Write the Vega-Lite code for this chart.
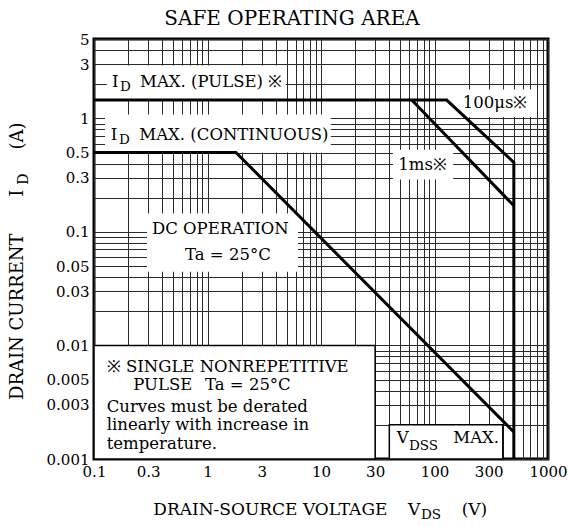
{
  "$schema": "https://vega.github.io/schema/vega-lite/v6.json",
  "width": 454,
  "height": 420,
  "autosize": "none",
  "padding": {"left": 94, "top": 39, "right": 20, "bottom": 67},
  "background": "white",
  "title": {"text": "SAFE OPERATING AREA", "font": "DejaVu Serif", "fontSize": 20, "fontWeight": "normal", "color": "black", "anchor": "middle", "dx": -29, "offset": 3},
  "config": {
    "view": {"stroke": "black", "strokeWidth": 3},
    "axis": {"domain": false, "ticks": false, "grid": true, "gridColor": "#2a2a2a", "gridWidth": 1, "gridOpacity": 1, "labelFont": "DejaVu Serif", "labelFontSize": 15, "labelColor": "black", "labelFlush": false, "labelOverlap": false, "format": "~g"},
    "text": {"font": "DejaVu Serif", "color": "black"}
  },
  "datasets": {
    "curves": [
      {"series": "p100", "ord": 0, "v": 0.1, "i": 1.45},
      {"series": "p100", "ord": 1, "v": 128, "i": 1.45},
      {"series": "p100", "ord": 2, "v": 500, "i": 0.41},
      {"series": "p100", "ord": 3, "v": 500, "i": 0.001},
      {"series": "p1ms", "ord": 0, "v": 63, "i": 1.45},
      {"series": "p1ms", "ord": 1, "v": 500, "i": 0.17},
      {"series": "dc", "ord": 0, "v": 0.1, "i": 0.5},
      {"series": "dc", "ord": 1, "v": 1.78, "i": 0.5},
      {"series": "dc", "ord": 2, "v": 500, "i": 0.00173}
    ],
    "boxes": [
      {"x1": 0.13, "x2": 4.9, "y1": 1.45, "y2": 2.92},
      {"x1": 0.125, "x2": 12.2, "y1": 0.5, "y2": 1.08},
      {"x1": 160, "x2": 760, "y1": 1.03, "y2": 1.8},
      {"x1": 43, "x2": 146, "y1": 0.29, "y2": 0.53},
      {"x1": 0.293, "x2": 6.27, "y1": 0.0446, "y2": 0.145}
    ],
    "frames": [
      {"x1": 0.1, "x2": 30, "y1": 0.001, "y2": 0.01},
      {"x1": 40, "x2": 400, "y1": 0.001, "y2": 0.002}
    ],
    "labels": [
      {"t": "I", "x": 0.1441, "y": 1.907},
      {"t": "MAX. (PULSE) ※", "x": 0.2542, "y": 1.907},
      {"t": "I", "x": 0.1403, "y": 0.641},
      {"t": "MAX. (CONTINUOUS)", "x": 0.2506, "y": 0.641},
      {"t": "100μs※", "x": 177.2, "y": 1.238},
      {"t": "1ms※", "x": 48.0, "y": 0.3486},
      {"t": "DC OPERATION", "x": 0.3243, "y": 0.0958},
      {"t": "Ta = 25°C", "x": 0.6336, "y": 0.0569},
      {"t": "※ SINGLE NONREPETITIVE", "x": 0.1294, "y": 0.005886},
      {"t": "PULSE", "x": 0.222, "y": 0.00406},
      {"t": "Ta = 25°C", "x": 0.9506, "y": 0.00406},
      {"t": "Curves must be derated", "x": 0.1294, "y": 0.002614},
      {"t": "linearly with increase in", "x": 0.1294, "y": 0.001802},
      {"t": "temperature.", "x": 0.1294, "y": 0.001218},
      {"t": "V", "x": 46.45, "y": 0.001392},
      {"t": "MAX.", "x": 146.4, "y": 0.001392}
    ],
    "xtitle": [
      {"t": "DRAIN-SOURCE VOLTAGE", "x": 0.3331, "y": 0.0003208},
      {"t": "V", "x": 58.42, "y": 0.0003208},
      {"t": "(V)", "x": 173.6, "y": 0.0003208}
    ],
    "subs": [
      {"t": "D", "x": 0.1695, "y": 1.759},
      {"t": "D", "x": 0.1661, "y": 0.5934},
      {"t": "DSS", "x": 59.5, "y": 0.0012},
      {"t": "DS", "x": 76.0, "y": 0.0002957}
    ],
    "ytitle": [
      {"t": "DRAIN CURRENT", "x": 0.02368, "y": 0.00331},
      {"t": "I", "x": 0.02368, "y": 0.2043},
      {"t": "(A)", "x": 0.02368, "y": 0.5307}
    ],
    "ytitlesub": [
      {"t": "D", "x": 0.02595, "y": 0.2608}
    ]
  },
  "layer": [
    {
      "data": {"name": "boxes"},
      "mark": {"type": "rect", "fill": "white", "stroke": null},
      "encoding": {
        "x": {"field": "x1", "type": "quantitative", "scale": {"type": "log", "domain": [0.1, 1000], "nice": false},
          "axis": {"title": null, "values": [0.1,0.2,0.3,0.4,0.5,0.6,0.7,0.8,0.9,1,2,3,4,5,6,7,8,9,10,20,30,40,50,60,70,80,90,100,200,300,400,500,600,700,800,900,1000],
            "labelExpr": "indexof([0.1,0.3,1,3,10,30,100,300,1000], datum.value) >= 0 ? datum.label : ''", "labelPadding": 5}},
        "x2": {"field": "x2"},
        "y": {"field": "y1", "type": "quantitative", "scale": {"type": "log", "domain": [0.001, 5], "nice": false},
          "axis": {"title": null, "values": [0.001,0.002,0.003,0.004,0.005,0.006,0.007,0.008,0.009,0.01,0.02,0.03,0.04,0.05,0.06,0.07,0.08,0.09,0.1,0.2,0.3,0.4,0.5,0.6,0.7,0.8,0.9,1,2,3,4,5],
            "labelExpr": "indexof([0.001,0.003,0.005,0.01,0.03,0.05,0.1,0.3,0.5,1,3,5], datum.value) >= 0 ? datum.label : ''", "labelPadding": 5}},
        "y2": {"field": "y2"}
      }
    },
    {
      "data": {"name": "frames"},
      "mark": {"type": "rect", "fill": "white", "stroke": "black", "strokeWidth": 1.5},
      "encoding": {
        "x": {"field": "x1", "type": "quantitative"},
        "x2": {"field": "x2"},
        "y": {"field": "y1", "type": "quantitative"},
        "y2": {"field": "y2"}
      }
    },
    {
      "data": {"name": "curves"},
      "mark": {"type": "line", "color": "black", "strokeWidth": 3, "strokeJoin": "miter"},
      "encoding": {
        "x": {"field": "v", "type": "quantitative"},
        "y": {"field": "i", "type": "quantitative"},
        "detail": {"field": "series"},
        "order": {"field": "ord"}
      }
    },
    {
      "data": {"name": "labels"},
      "mark": {"type": "text", "fontSize": 16.5, "align": "left", "baseline": "alphabetic"},
      "encoding": {
        "x": {"field": "x", "type": "quantitative"},
        "y": {"field": "y", "type": "quantitative"},
        "text": {"field": "t"}
      }
    },
    {
      "data": {"name": "xtitle"},
      "mark": {"type": "text", "fontSize": 17, "align": "left", "baseline": "alphabetic"},
      "encoding": {
        "x": {"field": "x", "type": "quantitative"},
        "y": {"field": "y", "type": "quantitative"},
        "text": {"field": "t"}
      }
    },
    {
      "data": {"name": "subs"},
      "mark": {"type": "text", "fontSize": 13.5, "align": "left", "baseline": "alphabetic"},
      "encoding": {
        "x": {"field": "x", "type": "quantitative"},
        "y": {"field": "y", "type": "quantitative"},
        "text": {"field": "t"}
      }
    },
    {
      "data": {"name": "ytitle"},
      "mark": {"type": "text", "fontSize": 18, "align": "left", "baseline": "alphabetic", "angle": 270},
      "encoding": {
        "x": {"field": "x", "type": "quantitative"},
        "y": {"field": "y", "type": "quantitative"},
        "text": {"field": "t"}
      }
    },
    {
      "data": {"name": "ytitlesub"},
      "mark": {"type": "text", "fontSize": 14, "align": "left", "baseline": "alphabetic", "angle": 270},
      "encoding": {
        "x": {"field": "x", "type": "quantitative"},
        "y": {"field": "y", "type": "quantitative"},
        "text": {"field": "t"}
      }
    }
  ]
}
